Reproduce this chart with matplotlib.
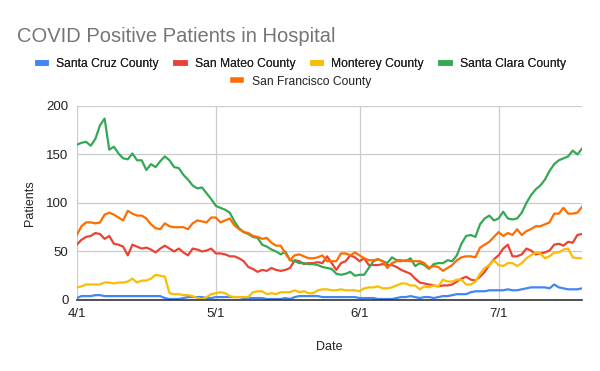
import matplotlib
matplotlib.use("Agg")
import matplotlib.pyplot as plt
import pandas as pd

plt.rcParams['font.family'] = ['Liberation Sans', 'DejaVu Sans']

# daily values, 4/1 through 7/19
dates = pd.date_range('2020-04-01', periods=110)

santa_cruz = [2, 4, 4, 4, 5, 5, 4, 4, 4, 4, 4, 4, 4, 4, 4, 4, 4, 4, 4, 2,
              1, 1, 1, 2, 3, 3, 3, 3, 2, 2, 3, 3, 3, 3, 3, 3, 2, 2, 2, 2,
              2, 1, 1, 1, 1, 2, 1, 3, 4, 4, 4, 4, 4, 3, 3, 3, 3, 3, 3, 3,
              3, 2, 2, 2, 2, 1, 1, 1, 1, 2, 3, 3, 4, 3, 2, 3, 3, 2, 3, 4,
              4, 5, 6, 6, 6, 8, 9, 9, 9, 10, 10, 10, 10, 11, 10, 10, 11, 12, 13, 13,
              13, 13, 12, 16, 13, 12, 11, 11, 11, 12]

san_mateo = [57, 62, 65, 66, 69, 68, 63, 66, 58, 57, 55, 46, 57, 55, 53, 54, 52, 49, 53, 56,
             53, 50, 53, 49, 46, 53, 52, 50, 51, 53, 48, 48, 47, 45, 45, 43, 40, 34, 32, 29,
             31, 30, 33, 31, 30, 31, 33, 41, 40, 37, 38, 38, 39, 38, 45, 38, 31, 38, 40, 46,
             44, 40, 43, 36, 36, 36, 37, 36, 36, 34, 31, 29, 27, 22, 18, 17, 16, 15, 14, 15,
             15, 16, 19, 22, 24, 21, 20, 24, 29, 36, 42, 46, 53, 57, 45, 45, 47, 53, 51, 47,
             48, 49, 51, 57, 58, 56, 60, 59, 67, 68]

monterey = [13, 14, 16, 16, 16, 16, 18, 18, 17, 18, 18, 19, 22, 18, 20, 20, 22, 26, 25, 24,
            7, 6, 6, 5, 5, 4, 2, 1, 3, 6, 7, 8, 7, 4, 3, 3, 3, 3, 8, 9,
            9, 6, 7, 6, 8, 8, 8, 10, 8, 9, 7, 7, 10, 11, 11, 10, 10, 11, 10, 10,
            10, 9, 12, 13, 13, 14, 12, 12, 13, 15, 17, 17, 15, 15, 11, 14, 13, 15, 14, 21,
            19, 19, 21, 21, 16, 16, 19, 27, 33, 36, 41, 36, 35, 38, 38, 35, 38, 43, 46, 49,
            48, 43, 45, 49, 49, 52, 53, 44, 43, 43]

santa_clara = [160, 162, 163, 159, 166, 180, 187, 155, 158, 151, 146, 145, 151, 144, 144, 134, 140, 137, 143, 148,
               144, 137, 136, 129, 124, 118, 115, 116, 110, 104, 97, 95, 93, 90, 81, 74, 70, 68, 65, 64,
               57, 55, 52, 50, 47, 50, 41, 40, 38, 38, 37, 37, 36, 34, 33, 32, 27, 26, 27, 29,
               25, 26, 26, 33, 40, 42, 40, 38, 44, 41, 41, 40, 43, 35, 38, 36, 32, 37, 38, 38,
               41, 40, 46, 58, 66, 67, 65, 78, 84, 87, 82, 84, 91, 84, 83, 84, 90, 100, 108, 114,
               118, 124, 133, 140, 144, 146, 148, 154, 150, 156]

san_francisco = [67, 76, 80, 80, 79, 80, 88, 90, 88, 85, 82, 92, 89, 87, 87, 84, 78, 74, 73, 79,
                 76, 75, 75, 75, 73, 79, 82, 81, 80, 85, 85, 80, 82, 84, 77, 73, 70, 69, 66, 65,
                 63, 64, 59, 56, 56, 48, 41, 46, 47, 45, 43, 43, 44, 46, 40, 40, 40, 48, 48, 46,
                 49, 46, 43, 41, 41, 42, 40, 33, 38, 40, 40, 41, 40, 40, 40, 38, 33, 35, 34, 30,
                 33, 36, 41, 44, 45, 45, 44, 54, 57, 60, 65, 70, 66, 69, 67, 73, 67, 71, 73, 76,
                 76, 78, 80, 89, 89, 95, 89, 89, 90, 96]

series = [
    ('Santa Cruz County', santa_cruz, '#4285F4'),
    ('San Mateo County', san_mateo, '#EA4335'),
    ('Monterey County', monterey, '#FBBC04'),
    ('Santa Clara County', santa_clara, '#34A853'),
    ('San Francisco County', san_francisco, '#FF6D01'),
]

tick_dates = pd.to_datetime(['2020-04-01', '2020-05-01', '2020-06-01', '2020-07-01'])
tick_labels = ['4/1', '5/1', '6/1', '7/1']

fig = plt.figure(figsize=(6, 3.71), dpi=100)
ax = fig.add_axes([0.128, 0.1914, 0.842, 0.523])

lines = []
for name, vals, col in series:
    ln, = ax.plot(dates, vals, color=col, lw=1.6, label=name, solid_joinstyle='round')
    lines.append(ln)

ax.set_ylim(0, 200)
ax.set_xlim(dates[0], dates[-1])
ax.set_yticks([0, 50, 100, 150, 200])
ax.set_xticks(tick_dates)
ax.set_xticklabels(tick_labels)
ax.grid(True, color='#cccccc', lw=0.9)
ax.set_axisbelow(True)
for s in ['top', 'right', 'left']:
    ax.spines[s].set_visible(False)
ax.spines['bottom'].set_color('#333333')
ax.spines['bottom'].set_linewidth(1.2)
ax.spines['bottom'].set_zorder(5)
ax.tick_params(length=0, labelsize=9.5, colors='#222222', pad=6)

ax.set_xlabel('Date', fontsize=9, color='#222222', labelpad=15)
ax.set_ylabel('Patients', fontsize=9, color='#222222', labelpad=7)

fig.text(0.028, 0.902, 'COVID Positive Patients in Hospital', fontsize=14.5,
         color='#757575', va='center', ha='left')

leg1 = fig.legend(lines[:4], [s[0] for s in series[:4]], loc='center',
                  bbox_to_anchor=(0.503, 0.828), ncol=4, frameon=False,
                  fontsize=8.75, handlelength=0.7, handletextpad=0.85,
                  columnspacing=1.4)
leg2 = fig.legend(lines[4:], [series[4][0]], loc='center',
                  bbox_to_anchor=(0.503, 0.780), frameon=False,
                  fontsize=8.75, handlelength=0.7, handletextpad=0.85)
for lg in (leg1, leg2):
    for h in lg.legend_handles:
        h.set_linewidth(4)
    for t in lg.get_texts():
        t.set_color('#222222')
fig.add_artist(leg1)

fig.savefig('out.png', dpi=100, facecolor='white')
